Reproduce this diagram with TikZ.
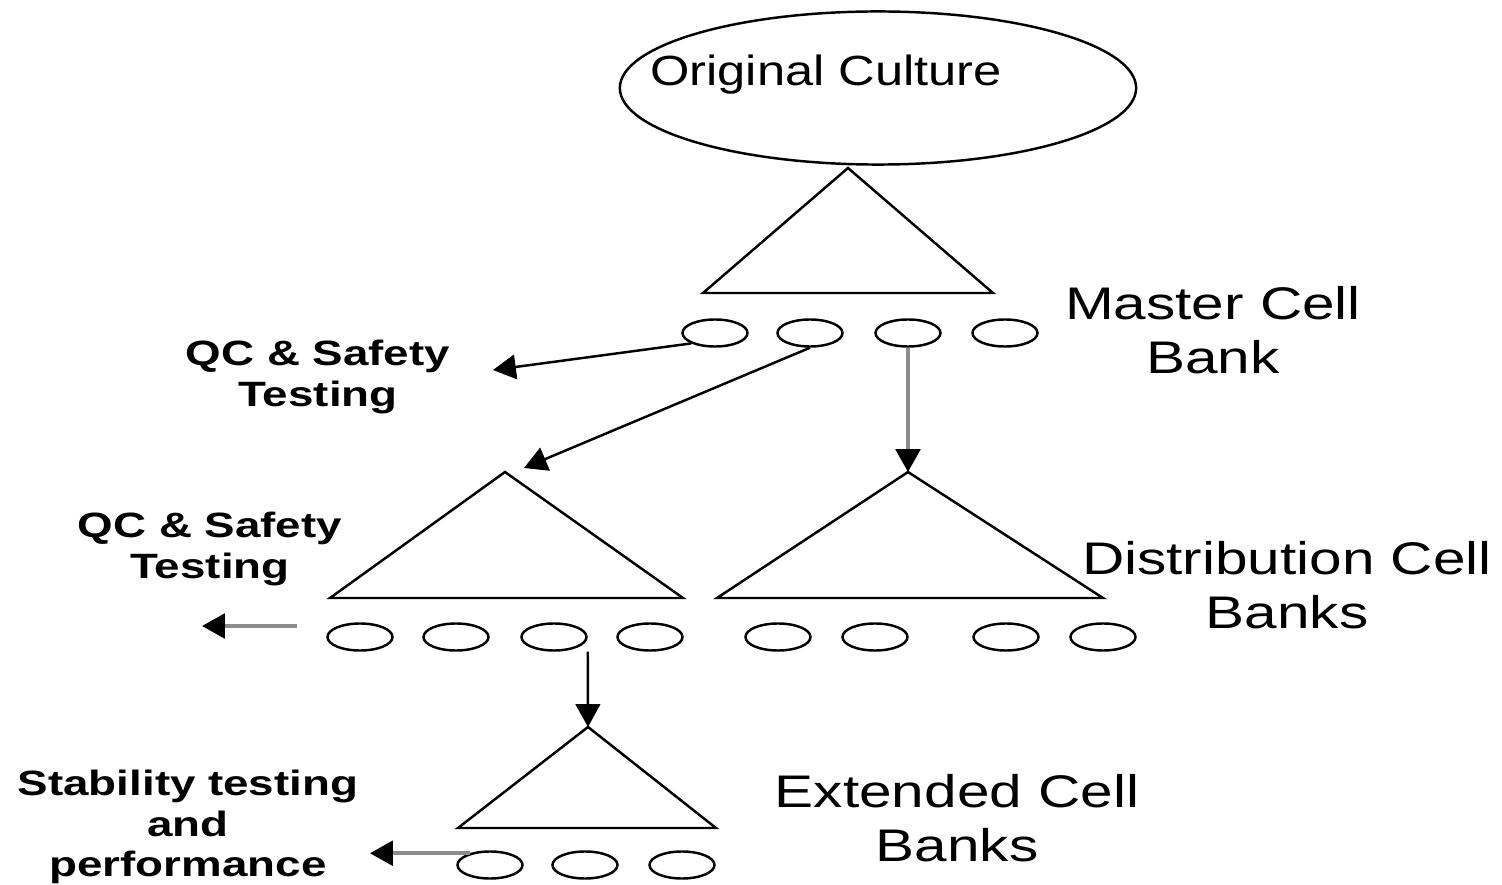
\documentclass[tikz,border=0pt]{standalone}
\usepackage{fontspec}
\setmainfont{Liberation Sans}
\usetikzlibrary{arrows.meta, shapes.geometric}

\begin{document}
\begin{tikzpicture}[x=0.01cm, y=-0.01cm, line width=0.7pt,
	cell/.style={draw, ellipse, minimum width=0.65cm, minimum height=0.27cm, inner sep=0pt},
	banklbl/.style={font=\fontsize{13}{15.3}\selectfont, xscale=1.28, align=center},
	testlbl/.style={font=\bfseries\fontsize{10}{11.6}\selectfont, xscale=1.3, align=center},
	arr/.style={-{Triangle[length=6.5pt, width=7pt]}},
	grayarr/.style={draw=black!45, line width=1pt, -{Triangle[length=6.5pt, width=7pt, color=black]}}]
				\useasboundingbox (0,0) rectangle (1502,885);

				\node[draw, ellipse, minimum width=5.16cm, minimum height=1.53cm, inner sep=0pt] (culture) at (878,88) {};
				\node[font=\fontsize{12}{14}\selectfont, xscale=1.2] (culturetxt) at (826,75) {Original Culture};

				\draw (848,168) coordinate (mcbtop) -- (993,293) -- (703,293) -- cycle;
				\draw (505,472) coordinate (dcbtopa) -- (683,598) -- (330,598) -- cycle;
				\draw (908,472) coordinate (dcbtopb) -- (1103,598) -- (717,598) -- cycle;
				\draw (588,727) coordinate (ecbtop) -- (716,828) -- (458,828) -- cycle;

				\node[cell] (m1) at (715,333) {};
				\node[cell] (m2) at (810,333) {};
				\node[cell] (m3) at (908,333) {};
				\node[cell] (m4) at (1005,333) {};

				\node[cell] (d1) at (360,637) {};
				\node[cell] (d2) at (456,637) {};
				\node[cell] (d3) at (554,637) {};
				\node[cell] (d4) at (650,637) {};
				\node[cell] (d5) at (778,637) {};
				\node[cell] (d6) at (875,637) {};
				\node[cell] (d7) at (1006,637) {};
				\node[cell] (d8) at (1103,637) {};

				\node[cell] (e1) at (490,865) {};
				\node[cell] (e2) at (585,865) {};
				\node[cell] (e3) at (682,865) {};

				\node[banklbl] (mcb) at (1213,330) {Master Cell\\Bank};
				\node[banklbl] (dcb) at (1287,585) {Distribution Cell\\Banks};
				\node[banklbl] (ecb) at (957,818) {Extended Cell\\Banks};

				\node[testlbl] (qca) at (318,377) {QC \& Safety\\Testing};
				\node[testlbl] (qcb) at (210,549) {QC \& Safety\\Testing};
				\node[testlbl] (stab) at (188,827) {Stability testing\\and\\performance};

				\coordinate (qcatip) at (493,370);
				\coordinate (dcbtip) at (524,468);
				\coordinate (qcbstart) at (297,626);
				\coordinate (qcbtip) at (202,626);
				\coordinate (stabtip) at (370,855);

				\draw[arr] (m1.south west) -- (qcatip);
				\draw[arr] (m2.south) -- (dcbtip);
				\draw[grayarr] (m3.south) -- (dcbtopb);
				\draw[grayarr] (qcbstart) -- (qcbtip);
				\draw[arr] (d3.east |- d3.south) -- (ecbtop);
				\draw[grayarr] (e1.150) -- (e1.150 -| stabtip);
\end{tikzpicture}
\end{document}
